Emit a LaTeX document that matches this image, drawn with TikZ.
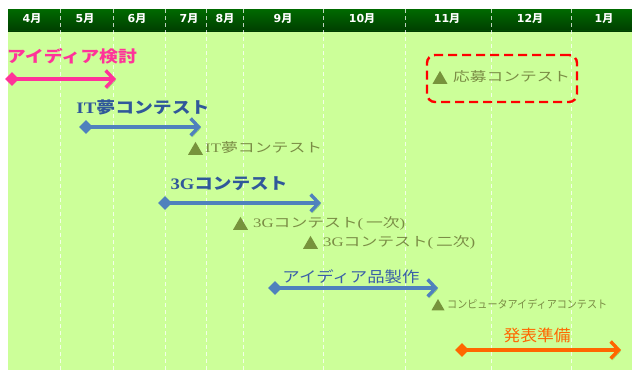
\documentclass[tikz,border=0pt]{standalone}
\usepackage{fontspec}
\usepackage{graphicx}
\setmainfont{Liberation Serif}
\newfontfamily\jp{Noto Sans CJK JP}
\newfontfamily\dv{DejaVu Sans}
\usetikzlibrary{arrows.meta,shapes.geometric}
\definecolor{bgg}{HTML}{CCFF99}
\definecolor{hdrtop}{HTML}{006A00}
\definecolor{hdrbot}{HTML}{003E00}
\definecolor{pinkc}{HTML}{FF3399}
\definecolor{bluea}{HTML}{4F81BD}
\definecolor{bluet}{HTML}{30589A}
\definecolor{bluet2}{HTML}{3A5FA8}
\definecolor{olivec}{HTML}{77933C}
\definecolor{olivet}{HTML}{7A8C45}
\definecolor{orangec}{HTML}{FF6600}
\newcommand\fitw[2]{\resizebox{#1}{\height}{#2}}
\newcommand\fs[1]{\fontsize{#1}{#1}\selectfont}
\tikzset{
  arr/.style={line width=3.4pt, -{Straight Barb[length=8pt,width=17pt]},
    preaction={draw=black!60!green, draw opacity=0.35, transform canvas={shift={(1.6pt,-1.6pt)}}}},
  dia/.style={diamond, inner sep=0pt, minimum width=14pt, minimum height=14pt},
  tri/.style={regular polygon, regular polygon sides=3, fill=olivec, inner sep=0pt, minimum size=17.3pt},
  lbl/.style={inner sep=0pt},
  olab/.style={inner sep=0pt, anchor=west, text=olivet},
  divider/.style={draw=white, opacity=0.75, line width=0.9pt, dash pattern=on 4pt off 3pt},
  month/.style={inner sep=0pt, text=white, font=\dv\bfseries\fs{11}},
}
\begin{document}
\begin{tikzpicture}[x=1pt,y=-1pt]
\path[use as bounding box] (0,0) rectangle (632,370);
% background
\fill[bgg] (8,31) rectangle (632,370);
\shade[top color=hdrtop, bottom color=hdrbot] (8,9) rectangle (632,31);
\draw[black!70!green, line width=0.8pt] (8,30.6) -- (632,30.6);
\foreach \x in {60,113,165,206,243,323,405,491,571}
  \draw[divider] (\x,9) -- (\x,370);
\foreach \x/\m in {32/4,85/5,137/6,189/7,225/8,283/9,362/10,447/11,530/12,604/1}
  \node[month] (m\m) at (\x,19) {\m{\jp\bfseries 月}};

% アイディア検討
\node[lbl, text=pinkc] (t1) at (72,56) {\fitw{130pt}{\jp\bfseries\fs{16}アイディア検討}};
\node[dia, fill=pinkc] (d1) at (12,79) {};
\coordinate (e1) at (116,79);
\draw[arr, pinkc] (d1.center) -- (e1);

% IT夢コンテスト
\node[lbl, text=bluet] (t2) at (143,107) {\fitw{133pt}{\fs{16}{\bfseries IT}{\jp\bfseries 夢コンテスト}}};
\node[dia, fill=bluea] (d2) at (86,127) {};
\coordinate (e2) at (201,127);
\draw[arr, bluea] (d2.center) -- (e2);
\node[tri] (tr1) at (195.5,150.5) {};
\node[olab] (o1) at (205,148) {\fitw{117pt}{\fs{13}IT{\jp 夢コンテスト}}};

% 応募コンテスト
\node[draw=red, line width=2.4pt, dash pattern=on 9pt off 5pt, rounded corners=8pt,
      minimum width=150pt, minimum height=47pt, inner sep=0pt] (box) at (502,78.5) {};
\node[tri] (tr2) at (440,79.5) {};
\node[olab] (o2) at (453,77) {\fitw{117pt}{\jp\fs{13}応募コンテスト}};

% 3Gコンテスト
\node[lbl, text=bluet] (t3) at (229,184) {\fitw{117pt}{\fs{16}{\bfseries 3G}{\jp\bfseries コンテスト}}};
\node[dia, fill=bluea] (d3) at (165,203) {};
\coordinate (e3) at (321,203);
\draw[arr, bluea] (d3.center) -- (e3);
\node[tri] (tr3) at (240.5,225.5) {};
\node[olab] (o3) at (253,223) {\fitw{152pt}{\fs{13}3G{\jp コンテスト}(\,{\jp 一次})}};
\node[tri] (tr4) at (310.5,244.5) {};
\node[olab] (o4) at (323,242) {\fitw{152pt}{\fs{13}3G{\jp コンテスト}(\,{\jp 二次})}};

% アイディア品製作
\node[lbl, text=bluet2] (t4) at (351,277) {\fitw{137pt}{\jp\fs{15}アイディア品製作}};
\node[dia, fill=bluea] (d4) at (275,288) {};
\coordinate (e4) at (438,288);
\draw[arr, bluea] (d4.center) -- (e4);
\node[tri, minimum size=15pt] (tr5) at (438,306.5) {};
\node[olab] (o5) at (447,304) {\fitw{160pt}{\jp\fs{11}コンピュータアイディアコンテスト}};

% 発表準備
\node[lbl, text=orangec] (t5) at (537,335) {\fitw{67pt}{\jp\fs{16}発表準備}};
\node[dia, fill=orangec] (d5) at (462,350) {};
\coordinate (e5) at (621,350);
\draw[arr, orangec] (d5.center) -- (e5);
\end{tikzpicture}
\end{document}
